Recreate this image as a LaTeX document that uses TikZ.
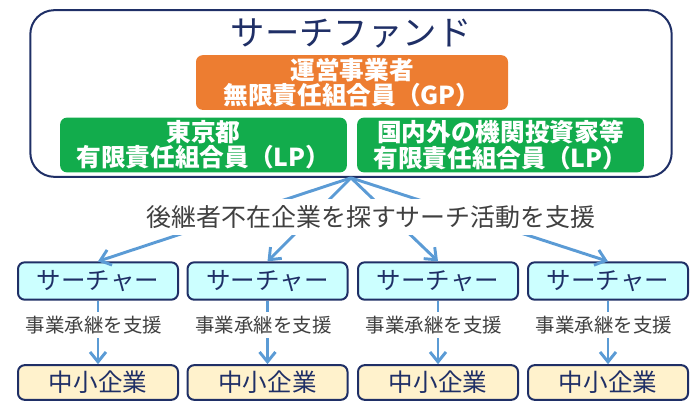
\documentclass[tikz,border=0pt]{standalone}
\usepackage{fontspec}
\setmainfont{Noto Sans CJK JP}
\usetikzlibrary{arrows.meta,positioning}
\definecolor{Navy}{HTML}{1F2F66}
\definecolor{Orng}{HTML}{ED7D31}
\definecolor{Grn}{HTML}{12AC4C}
\definecolor{Sky}{HTML}{5B9BD5}
\definecolor{Aqua}{HTML}{CCFFFF}
\definecolor{Cream}{HTML}{FFF2CC}
\definecolor{Txt}{HTML}{404040}

\begin{document}
\begin{tikzpicture}[x=0.75pt,y=-0.75pt,every node/.style={align=center,inner sep=0pt}]
      \useasboundingbox (0,0) rectangle (700,415);
      % fund and partners
      \node[draw=Navy,line width=1.5pt,rounded corners=18pt,minimum width=481pt,minimum height=125pt] (fund) at (351,93.5) {};
      \node[text=Navy,font=\fontsize{25.8}{28}\selectfont] (title) at (351,33) {サーチファンド};
      \node[fill=Orng,rounded corners=5pt,minimum width=234pt,minimum height=41pt,text=white,font=\bfseries\fontsize{18.5}{19}\selectfont] (gp) at (352,82.5) {
        運営事業者\\ 無限責任組合員（GP）
      };
      \node[fill=Grn,rounded corners=5pt,minimum width=215pt,minimum height=41pt,text=white,font=\bfseries\fontsize{18.5}{19}\selectfont] (lpt) at (203.5,145) {
        東京都\\ 有限責任組合員（LP）
      };
      \node[fill=Grn,rounded corners=5pt,minimum width=215pt,minimum height=41pt,text=white,font=\bfseries\fontsize{18.5}{19}\selectfont] (lpi) at (500.5,145) {
        国内外の機関投資家等\\ 有限責任組合員（LP）
      };

      % searchers and SMEs
      \foreach \n/\x in {1/98,2/267.5,3/438,4/608} {
        \node[draw=Navy,line width=1.5pt,fill=Aqua,rounded corners=5pt,minimum width=120pt,minimum height=28pt,text=Navy,font=\fontsize{18.4}{20}\selectfont] (s\n) at (\x,281) {サーチャー};
        \node[draw=Navy,line width=1.5pt,fill=Cream,rounded corners=5pt,minimum width=120pt,minimum height=26pt,text=Navy,font=\fontsize{18.4}{20}\selectfont] (c\n) at (\x,382.5) {中小企業};
        \draw[-{Straight Barb[length=2.6mm,width=4.2mm]},line width=2.2pt,Sky] (s\n) -- (c\n);
        \node[fill=white,inner sep=3pt,text=Txt,font=\fontsize{14.6}{16}\selectfont] (h\n) at (\x-4,325) {事業承継を支援};
      }

      \foreach \y in {s1,s2,s3,s4}
        \draw[-{Straight Barb[length=2.6mm,width=4.2mm]},line width=2.2pt,Sky] (fund.south) -- (\y.north);
      \node[fill=white,inner xsep=4pt,inner ysep=5pt,text=Txt,font=\fontsize{18.7}{20}\selectfont] (act) at (371,217) {後継者不在企業を探すサーチ活動を支援};
    \end{tikzpicture}
\end{document}
